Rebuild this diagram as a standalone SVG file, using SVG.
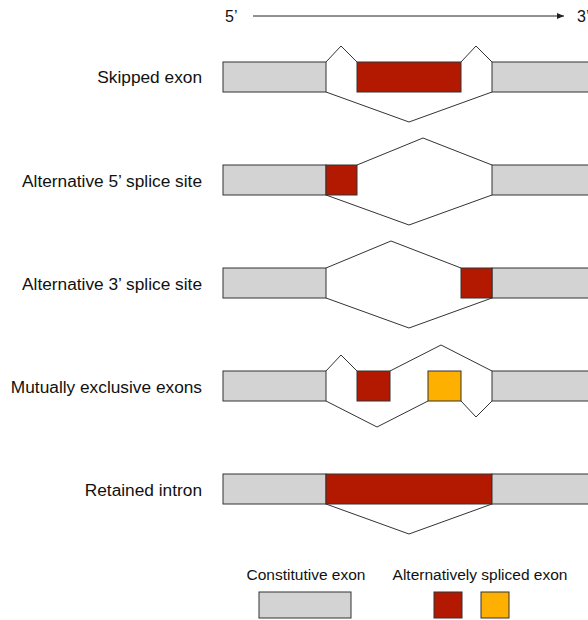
<svg xmlns="http://www.w3.org/2000/svg" width="588" height="620" viewBox="0 0 588 620">
<defs>
<style>
text{font-family:"Liberation Sans",Arial,Helvetica,sans-serif;font-size:16px;fill:#111}
.lbl{text-anchor:end;font-size:17.3px}
.lg{font-size:15.5px;text-anchor:middle}
.c{fill:#d3d3d3;stroke:#333;stroke-width:1}
.r{fill:#b31800;stroke:#333;stroke-width:1}
.o{fill:#fdb000;stroke:#333;stroke-width:1}
.j{fill:none;stroke:#333;stroke-width:1}
</style>
<marker id="ah" markerWidth="8" markerHeight="6" refX="7" refY="3" orient="auto" markerUnits="userSpaceOnUse">
<path d="M0,0 L7,3 L0,6 z" fill="#222"/>
</marker>
</defs>
<g id="axis">
<text x="225" y="22" font-size="17">5’</text>
<line x1="253" y1="16" x2="564" y2="16" stroke="#222" stroke-width="1" marker-end="url(#ah)"/>
<text x="577" y="22" font-size="17">3’</text>
</g>
<g id="skipped">
<text class="lbl" x="202" y="83">Skipped exon</text>
<rect class="c" x="223" y="62" width="103" height="30"/>
<rect class="r" x="357" y="62" width="104" height="30"/>
<rect class="c" x="492" y="62" width="100" height="30"/>
</g>
<g id="alt5">
<text class="lbl" x="202" y="187">Alternative 5’ splice site</text>
<rect class="c" x="223" y="165" width="103" height="30"/>
<rect class="r" x="326" y="165" width="31" height="30"/>
<rect class="c" x="492" y="165" width="100" height="30"/>
</g>
<g id="alt3">
<text class="lbl" x="202" y="290">Alternative 3’ splice site</text>
<rect class="c" x="223" y="268" width="103" height="30"/>
<rect class="c" x="492" y="268" width="100" height="30"/>
<rect class="r" x="461" y="268" width="31" height="30"/>
</g>
<g id="mutex">
<text class="lbl" x="202" y="393">Mutually exclusive exons</text>
<rect class="c" x="223" y="371" width="103" height="30"/>
<rect class="r" x="357" y="371" width="33" height="30"/>
<rect class="o" x="428" y="371" width="33" height="30"/>
<rect class="c" x="492" y="371" width="100" height="30"/>
</g>
<g id="retained">
<text class="lbl" x="202" y="496">Retained intron</text>
<rect class="c" x="223" y="474" width="103" height="30"/>
<rect class="r" x="326" y="474" width="166" height="30"/>
<rect class="c" x="492" y="474" width="100" height="30"/>
</g>
<g id="connectors">
<polyline class="j" points="326,62 341,46 357,62"/>
<polyline class="j" points="461,62 476,46 492,62"/>
<polyline class="j" points="326,92 409,122 492,92"/>
<polyline class="j" points="357,165 423,138 492,165"/>
<polyline class="j" points="326,195 409,225 492,195"/>
<polyline class="j" points="326,268 391,241 461,268"/>
<polyline class="j" points="326,298 409,328 492,298"/>
<polyline class="j" points="326,371 341,355 357,371"/>
<polyline class="j" points="390,371 441,345 492,371"/>
<polyline class="j" points="326,401 377,427 428,401"/>
<polyline class="j" points="461,401 476,417 492,401"/>
<polyline class="j" points="326,504 409,534 492,504"/>
</g>
<g id="legend">
<text class="lg" x="306" y="580">Constitutive exon</text>
<text class="lg" x="480" y="580">Alternatively spliced exon</text>
<rect class="c" x="259" y="592" width="92" height="26"/>
<rect class="r" x="434" y="592" width="28" height="26"/>
<rect class="o" x="481" y="592" width="28" height="26"/>
</g>
</svg>
